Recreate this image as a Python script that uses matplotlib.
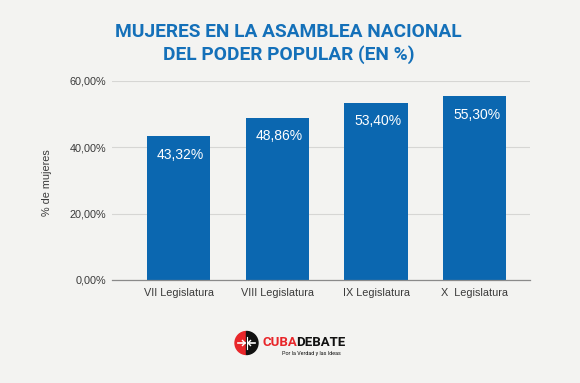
import matplotlib.pyplot as plt
from matplotlib.patches import Wedge
import matplotlib.ticker as mticker

# ---------- DATA ----------
legislaturas = ["VII Legislatura", "VIII Legislatura", "IX Legislatura", "X  Legislatura"]
porcentajes = [43.32, 48.86, 53.40, 55.30]
y_ticks = [0, 20, 40, 60]

# ---------- COLOURS ----------
BG = "#f3f3f1"
BLUE = "#0b67b0"
TITLE_BLUE = "#1470b9"
GRID = "#d6d6d4"
TEXT = "#3a3a3a"

fig = plt.figure(figsize=(5.8, 3.83), dpi=100)
fig.patch.set_facecolor(BG)
ax = fig.add_axes([0.193, 0.269, 0.721, 0.520])
ax.set_facecolor(BG)

x = range(len(legislaturas))
bars = ax.bar(x, porcentajes, width=0.64, color=BLUE, zorder=3)

# value labels inside the top of each bar
for b, v in zip(bars, porcentajes):
    ax.text(b.get_x() + b.get_width() / 2 + 0.02, v - 5.6,
            f"{v:.2f}%".replace(".", ","), color="white",
            ha="center", va="center", fontsize=10, family="Liberation Sans")

ax.set_xlim(-0.674, 3.56)
ax.set_ylim(0, 60)
ax.set_yticks(y_ticks)
ax.yaxis.set_major_formatter(mticker.FuncFormatter(lambda v, p: f"{v:.2f}%".replace(".", ",")))
ax.set_xticks(list(x))
ax.set_xticklabels(legislaturas)
for lab in ax.get_xticklabels() + ax.get_yticklabels():
    lab.set_family("Liberation Sans")
    lab.set_fontsize(7.8)
    lab.set_color(TEXT)

ax.tick_params(axis="both", length=0)
ax.tick_params(axis="x", pad=6)
ax.tick_params(axis="y", pad=4)
ax.grid(axis="y", color=GRID, linewidth=0.8, zorder=0)
for s in ["top", "right", "left"]:
    ax.spines[s].set_visible(False)
ax.spines["bottom"].set_color("#8a8a8a")
ax.spines["bottom"].set_linewidth(0.9)
ax.spines["bottom"].set_zorder(4)

ax.set_ylabel("% de mujeres", fontsize=7.8, color=TEXT, family="Liberation Sans")
ax.yaxis.set_label_coords(-0.143, 0.49)

# ---------- TITLE ----------
fig.text(0.497, 0.917, "MUJERES EN LA ASAMBLEA NACIONAL", ha="center", va="center",
         fontsize=13.8, fontweight="bold", color=TITLE_BLUE, family="Roboto")
fig.text(0.497, 0.857, "DEL PODER POPULAR (EN %)", ha="center", va="center",
         fontsize=13.8, fontweight="bold", color=TITLE_BLUE, family="Roboto")

# ---------- LOGO ----------
logo = fig.add_axes([0, 0, 1, 1], facecolor="none")
logo.set_xlim(0, 580)
logo.set_ylim(383, 0)
logo.axis("off")
logo.add_patch(Wedge((246.5, 343), 11.5, 90, 270, color="#e8262a"))
logo.add_patch(Wedge((246.5, 343), 11.5, 270, 90, color="#111111"))
logo.plot([238, 245], [343, 343], color="white", lw=1.2)
logo.plot([248, 255], [343, 343], color="white", lw=1.2)
logo.plot([242.5, 245, 242.5], [340.5, 343, 345.5], color="white", lw=1.0)
logo.plot([250.5, 248, 250.5], [340.5, 343, 345.5], color="white", lw=1.0)
logo.plot([246.5, 246.5], [337, 349], color="white", lw=0.8)
logo.text(262.5, 342.5, "CUBA", color="#e8262a", fontsize=9.5, fontweight="bold",
          family="Roboto", va="center", ha="left")
logo.text(296, 342.5, "DEBATE", color="#111111", fontsize=9.5, fontweight="bold",
          family="Roboto", va="center", ha="left")
logo.text(282, 353.5, "Por la Verdad y las Ideas", color="#111111", fontsize=3.9,
          family="Roboto", va="center", ha="left")

fig.savefig("out.png", dpi=100, facecolor=BG)
